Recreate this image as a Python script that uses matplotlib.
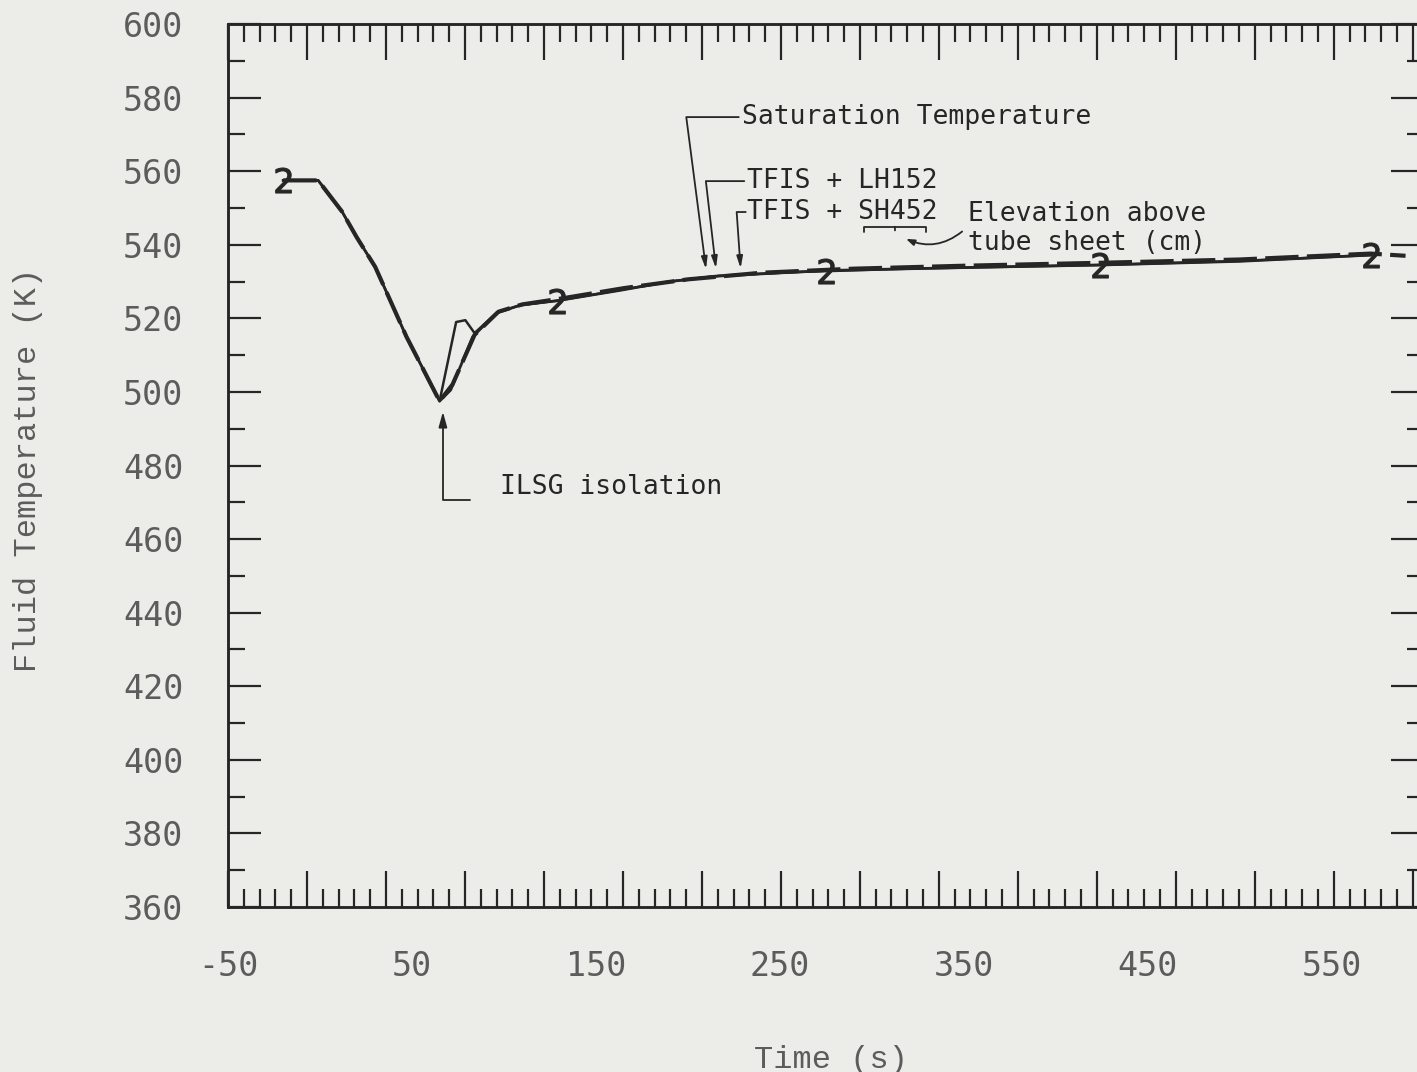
import matplotlib
matplotlib.use("Agg")
import matplotlib.pyplot as plt
from matplotlib.ticker import MultipleLocator

plt.rcParams["axes.unicode_minus"] = False

# Saturation temperature (heavy dashed)
time_sat = [-20, -1, 12, 20, 30, 47, 65, 72, 84, 97, 110, 130, 165, 200, 240, 290, 350, 424, 500, 571, 590]
temp_sat = [557.5, 557.5, 549, 542, 534, 515, 497.5, 502, 515.5, 521.8, 523.8, 525.3, 528.2, 530.6, 532.4, 533.5, 534.3, 535.1, 536.0, 537.6, 537.0]

# TFIS + LH152
time_lh = [-20, -1, 12, 20, 30, 47, 65, 74, 79, 84, 96, 109, 129, 163, 190, 217, 260, 320, 424, 500, 571]
temp_lh = [557.5, 557.5, 549, 542, 534, 515, 497.5, 519, 519.5, 516, 521.5, 523.6, 524.8, 527.7, 530, 531.6, 532.6, 533.5, 534.5, 535.6, 537.2]

# TFIS + SH452, plotted with symbol "2"
time_sh = [-20, -1, 12, 20, 30, 47, 65, 71, 83, 96, 109, 129, 163, 190, 217, 275, 350, 424, 500, 571]
temp_sh = [557.5, 557.5, 549, 542, 534, 515, 497.5, 500.5, 515, 521.5, 523.6, 524.8, 527.6, 530, 531.5, 533, 533.8, 534.5, 535.5, 537.2]
sh_symbol_times = [-20, 129, 275, 424, 571]

x_ticks = [-50, 50, 150, 250, 350, 450, 550]
y_ticks = list(range(360, 601, 20))

PAPER = "#ecece9"
INK = "#262626"
FAINT = "#5c5c5c"
MONO = "DejaVu Sans Mono"

fig = plt.figure(figsize=(14.17, 10.72), dpi=100, facecolor=PAPER)
ax = fig.add_axes([0.1609, 0.1539, 0.844, 0.8237])
ax.set_facecolor(PAPER)

ax.plot(time_lh, temp_lh, color=INK, lw=1.8)
ax.plot(time_sh, temp_sh, color=INK, lw=2.0,
        marker="$2$", markersize=18, markeredgewidth=0.8,
        markevery=[time_sh.index(t) for t in sh_symbol_times])
ax.plot(time_sat, temp_sat, color=INK, lw=3.0, dashes=(8, 2))

ax.set_xlim(-50, 600)
ax.set_ylim(360, 600)

# labelled axis: y ticks on both sides, x labels only
ax.set_xticks(x_ticks)
ax.set_yticks(y_ticks)
ax.yaxis.set_minor_locator(MultipleLocator(10))
ax.tick_params(axis="x", length=0, pad=31, labelsize=24, labelcolor=FAINT)
ax.tick_params(axis="y", which="both", left=True, right=True, direction="in",
               color=INK, width=1.6, pad=32, labelsize=24, labelcolor=FAINT)
ax.tick_params(axis="y", which="major", length=24)
ax.tick_params(axis="y", which="minor", length=12)
for lbl in ax.get_xticklabels() + ax.get_yticklabels():
    lbl.set_family(MONO)

# plotter frame ticks along top and bottom
frame = ax.twiny()
frame.set_xlim(ax.get_xlim())
frame_step = 42.93
frame.xaxis.set_major_locator(MultipleLocator(frame_step, offset=-50))
frame.xaxis.set_minor_locator(MultipleLocator(frame_step / 5, offset=-50))
frame.tick_params(axis="x", which="both", bottom=True, top=True, direction="in",
                  labelbottom=False, labeltop=False, color=INK, width=1.6)
frame.tick_params(axis="x", which="major", length=26)
frame.tick_params(axis="x", which="minor", length=13)

for a in (ax, frame):
    for side in a.spines.values():
        side.set_color(INK)
        side.set_linewidth(1.8)

ax.set_ylabel("Fluid Temperature (K)", family="Liberation Mono", fontsize=23, color=FAINT)
ax.set_xlabel("Time (s)", family="Liberation Mono", fontsize=23, color=FAINT)
ax.yaxis.set_label_coords(-0.155, 0.495)
ax.xaxis.set_label_coords(0.504, -0.156)

txt = dict(family=MONO, fontsize=19, color=INK, va="center", ha="left")
head = dict(color=INK, lw=1.3, shrinkA=0, shrinkB=0)

ax.text(229.5, 574.7, "Saturation Temperature", **txt)
ax.annotate("", xy=(209.8, 533.4), xytext=(227.6, 574.7),
            arrowprops=dict(arrowstyle="-|>,head_length=0.7,head_width=0.18",
                            connectionstyle="angle,angleA=0,angleB=97.4,rad=0", **head))

ax.text(232.0, 557.3, "TFIS + LH152", **txt)
ax.annotate("", xy=(215.2, 533.6), xytext=(230.6, 557.3),
            arrowprops=dict(arrowstyle="-|>,head_length=0.7,head_width=0.18",
                            connectionstyle="angle,angleA=0,angleB=96.6,rad=0", **head))

ax.text(232.0, 548.9, "TFIS + SH452", **txt)
ax.annotate("", xy=(228.6, 533.6), xytext=(231.4, 548.9),
            arrowprops=dict(arrowstyle="-|>,head_length=0.7,head_width=0.18",
                            connectionstyle="angle,angleA=0,angleB=94,rad=0", **head))

# brace under the elevation digits, with a curved pointer from the note
ax.text(352.2, 544.4, "Elevation above\ntube sheet (cm)", linespacing=1.15, **txt)
ax.annotate("", xy=(312.5, 544.9), xytext=(312.5, 543.9),
            arrowprops=dict(arrowstyle="-[,widthB=2.2,lengthB=0.35,angleB=180", color=INK,
                            lw=1.3, shrinkA=0, shrinkB=0))
ax.annotate("", xy=(318.5, 541.6), xytext=(349.0, 543.6),
            arrowprops=dict(arrowstyle="-|>,head_length=0.5,head_width=0.18",
                            connectionstyle="arc3,rad=-0.3", **head))

ax.text(97.8, 474.2, "ILSG isolation", **txt)
ax.annotate("", xy=(66.8, 494.6), xytext=(81.5, 470.7),
            arrowprops=dict(arrowstyle="-|>,head_length=0.9,head_width=0.25",
                            connectionstyle="angle,angleA=0,angleB=90,rad=0", **head))

fig.savefig("out.png", dpi=100, facecolor=PAPER)
